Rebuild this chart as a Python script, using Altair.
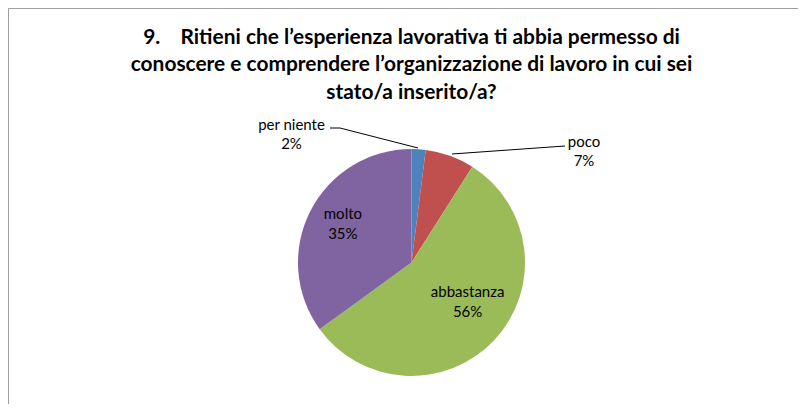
import altair as alt
import pandas as pd

categories = ["per niente", "poco", "abbastanza", "molto"]
values = [2, 7, 56, 35]
percent_labels = ["2%", "7%", "56%", "35%"]
colors = ["#4F81BD", "#C0504D", "#9BBB59", "#8064A2"]
title_lines = [
    "9.\u00a0\u00a0\u00a0\u00a0Ritieni che l\u2019esperienza lavorativa ti abbia permesso di",
    "conoscere e comprendere l\u2019organizzazione di lavoro in cui sei",
    "stato/a inserito/a?",
]

df = pd.DataFrame({
    "cat": categories,
    "value": values,
    "order": list(range(len(categories))),
    "label": [c + "\n" + p for c, p in zip(categories, percent_labels)],
})

W, H = 790, 396
CX, CY, R = 403.5, 254.5, 113.5
FONT = "Lato"
LAB_SIZE = 15

base = alt.Chart(df)

pie = base.mark_arc(outerRadius=R, x=CX, y=CY).encode(
    theta=alt.Theta("value:Q", stack=True),
    color=alt.Color("cat:N", scale=alt.Scale(domain=categories, range=colors), legend=None),
    order=alt.Order("order:Q"),
)


def inner_layer(cat, dy):
    return base.mark_text(
        x=CX, y=CY, dy=dy, font=FONT, fontSize=LAB_SIZE, lineBreak="\n", lineHeight=20,
        color="#000000", align="center", baseline="middle"
    ).encode(
        theta=alt.Theta("value:Q", stack=True),
        order=alt.Order("order:Q"),
        radius=alt.value(77),
        text=alt.condition(alt.datum.cat == cat, alt.Text("label:N"), alt.value("")),
    )


inner_molto = inner_layer("molto", -14)
inner_abb = inner_layer("abbastanza", -23)

out_pos = {"per niente": (283.5, 117), "poco": (576, 134)}
outs = []
for c in ["per niente", "poco"]:
    x, y = out_pos[c]
    outs.append(
        alt.Chart(df[df["cat"] == c]).mark_text(
            font=FONT, fontSize=LAB_SIZE, lineBreak="\n", color="#000000", align="center",
            baseline="middle", lineHeight=18.5
        ).encode(x=alt.value(x), y=alt.value(y), text="label:N")
    )

leader = alt.Chart(pd.DataFrame({"k": [0]}))
lines = [
    leader.mark_rule(color="#000000", strokeWidth=1).encode(x=alt.value(322), x2=alt.value(332), y=alt.value(120), y2=alt.value(120)),
    leader.mark_rule(color="#000000", strokeWidth=1).encode(x=alt.value(332), x2=alt.value(410), y=alt.value(120), y2=alt.value(140)),
    leader.mark_rule(color="#000000", strokeWidth=1).encode(x=alt.value(557), x2=alt.value(444), y=alt.value(138), y2=alt.value(146)),
]

title = alt.Chart(pd.DataFrame({"t": ["\n".join(title_lines)]})).mark_text(
    font=FONT, fontSize=20.9, fontWeight="bold", lineBreak="\n", lineHeight=27.5,
    align="center", baseline="middle", color="#000000"
).encode(x=alt.value(403.5), y=alt.value(29.5), text="t:N")

border = [
    leader.mark_rule(color="#A0A0A0", strokeWidth=2).encode(x=alt.value(0), x2=alt.value(W), y=alt.value(0), y2=alt.value(0)),
    leader.mark_rule(color="#A0A0A0", strokeWidth=2).encode(x=alt.value(0), x2=alt.value(0), y=alt.value(0), y2=alt.value(H)),
]

chart = alt.layer(pie, inner_molto, inner_abb, *outs, *lines, title, *border).properties(
    width=W, height=H, padding=0, autosize=alt.AutoSizeParams(type="none")
).configure_view(stroke=None)

chart.save("out.html", embed_options={"renderer": "svg", "actions": False})
